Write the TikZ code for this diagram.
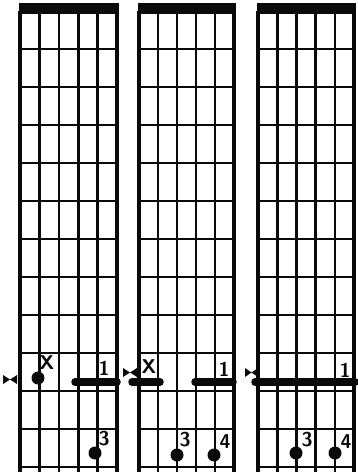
\documentclass[tikz,border=0pt]{standalone}
\usetikzlibrary{calc}
\definecolor{inkstroke}{HTML}{0A0A0A}
\tikzset{
  gridline/.style={
    draw=inkstroke,
    line width=2.6pt
  },
  edgeline/.style={
    draw=inkstroke,
    line width=3.2pt
  },
  nutbar/.style={
    fill=inkstroke
  },
  barre/.style={
    draw=inkstroke,
    line width=7.5pt,
    line cap=round
  },
  fingerdot/.style={
    circle,
    fill=inkstroke,
    minimum size=13pt,
    inner sep=0pt
  },
  fingerlabel/.style={
    text=inkstroke,
    inner sep=0pt,
    font=\sffamily\bfseries\fontsize{20}{20}\selectfont
  },
  fretmark/.style={fill=inkstroke}
}

\begin{document}
\begin{tikzpicture}[x=1pt,y=-1pt]
  \useasboundingbox (0,0) rectangle (357,476);

  % Three fretboards: six strings, twelve frets.
  \foreach \bx/\bw in {20/97,139/95,258/96} {
    \path[nutbar] (\bx-1.5,3) rectangle (\bx+\bw+1.5,14);
    \foreach \f in {1,...,12}
      \draw[gridline] (\bx,11+\f*38) -- (\bx+\bw,11+\f*38);
    \foreach \s in {1,...,4}
      \draw[gridline] (\bx+\s*\bw/5,11) -- (\bx+\s*\bw/5,472);
    \draw[edgeline] (\bx,11) -- (\bx,472);
    \draw[edgeline] (\bx+\bw,11) -- (\bx+\bw,472);
  }

  % Fret markers beside the barre fret.
  \path[fretmark] (3,375) -- (17,384) -- (17,375) -- (3,384) -- cycle;
  \path[fretmark] (123,368) -- (137,377) -- (137,368) -- (123,377) -- cycle;
  \path[fretmark] (245,368) -- (258,377) -- (258,368) -- (245,377) -- cycle;

  % First shape.
  \node[fingerdot] (d1x) at (38,378) {};
  \node[fingerlabel] (l1x) at (47,363) {X};
  \draw[barre] (75,382) -- (117,382);
  \node[fingerlabel] (l1one) at (104,368) {1};
  \node[fingerdot] (d1three) at (95,453) {};
  \node[fingerlabel] (l1three) at (104,439) {3};

  % Second shape.
  \draw[barre] (132,382) -- (160,382);
  \node[fingerlabel] (l2x) at (149,367) {X};
  \draw[barre] (195,382) -- (233,382);
  \node[fingerlabel] (l2one) at (224,369) {1};
  \node[fingerdot] (d2three) at (177,455) {};
  \node[fingerlabel] (l2three) at (185,440) {3};
  \node[fingerdot] (d2four) at (214,455) {};
  \node[fingerlabel] (l2four) at (225,442) {4};

  % Third shape.
  \draw[barre] (255,382) -- (355,382);
  \node[fingerlabel] (l3one) at (345,370) {1};
  \node[fingerdot] (d3three) at (296,453) {};
  \node[fingerlabel] (l3three) at (307,440) {3};
  \node[fingerdot] (d3four) at (335,453) {};
  \node[fingerlabel] (l3four) at (346,442) {4};
\end{tikzpicture}
\end{document}
